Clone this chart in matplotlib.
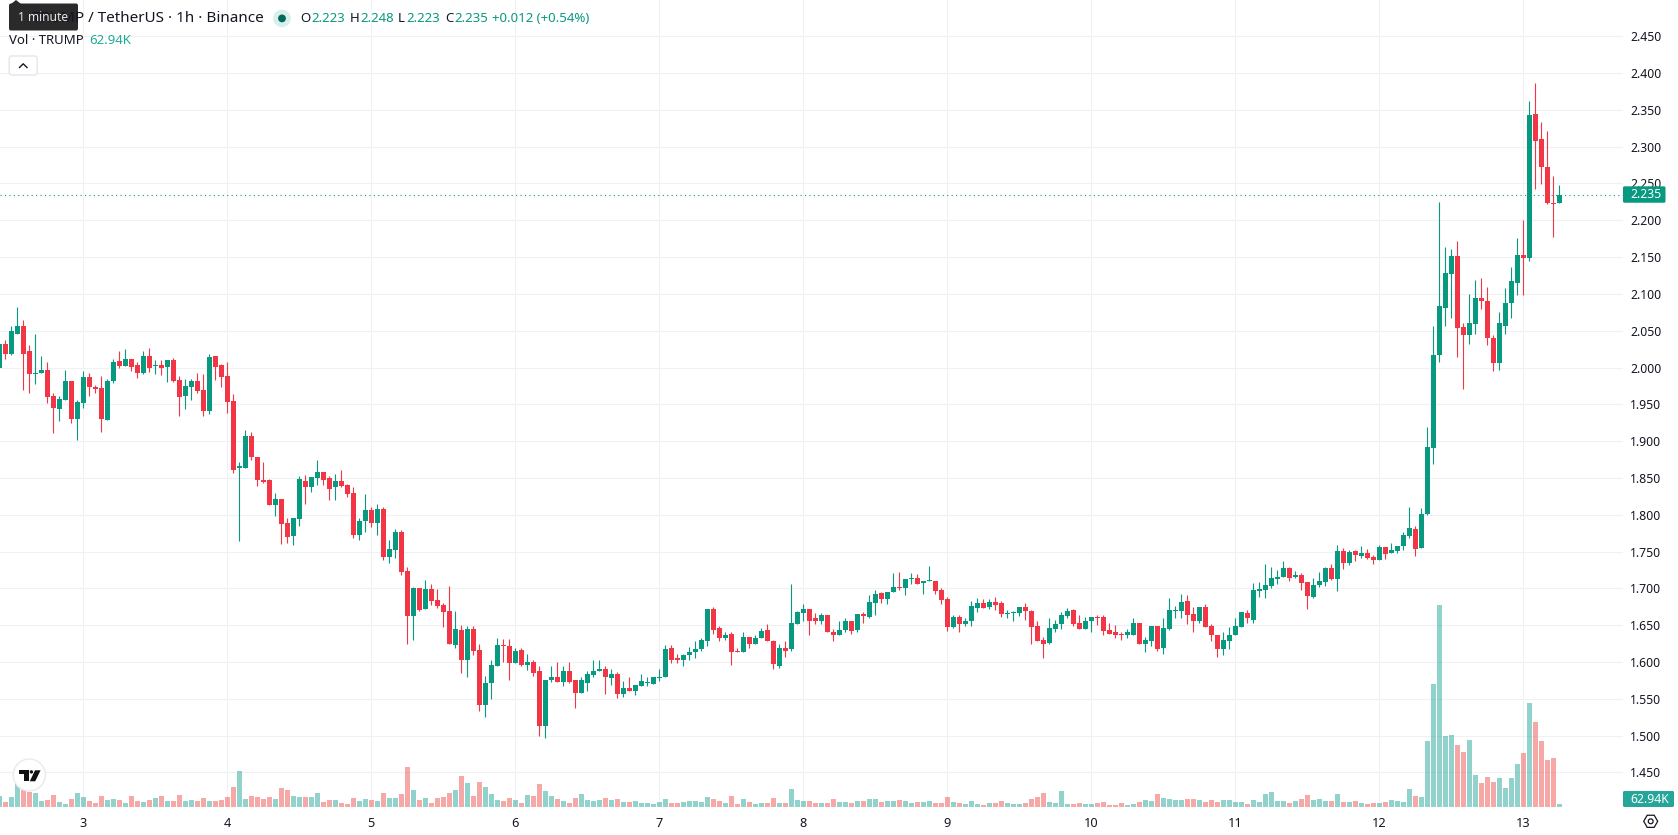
"""Hourly TRUMP/USDT candlesticks with a volume overlay, styled like a TradingView pane."""

import matplotlib

matplotlib.use("Agg")
import matplotlib.pyplot as plt
import numpy as np
from matplotlib.patches import Circle, FancyBboxPatch, Polygon, Rectangle

plt.rcParams["font.family"] = ["Noto Sans", "DejaVu Sans"]

WIDTH, HEIGHT = 1678, 835
PANE_RIGHT, PANE_BOTTOM = 1623, 807

UP = "#089981"
DOWN = "#F23645"
VOL_UP = "#26a69a"
VOL_DOWN = "#ef5350"
GRID = "#f0f1f3"
INK = "#131722"

# hours counted from the start of day 3
first_hour = -14

opens = [
    1.999, 2.032, 2.019, 2.046, 2.057, 2.022, 1.991, 1.992, 1.996, 1.961, 1.944, 1.956, 1.982, 1.930,
    1.952, 1.987, 1.974, 1.972, 1.929, 1.982, 2.009, 2.002, 2.011, 2.003, 1.992, 2.015, 2.002, 2.003, 2.001, 2.010, 1.983, 1.961, 1.974, 1.982, 1.970, 1.941, 2.015, 2.003,
    1.988, 1.955, 1.864, 1.864, 1.907, 1.878, 1.847, 1.847, 1.813, 1.821, 1.789, 1.771, 1.794, 1.846, 1.838, 1.850, 1.858, 1.850, 1.837, 1.846, 1.841, 1.830, 1.773, 1.791,
    1.806, 1.789, 1.808, 1.743, 1.752, 1.777, 1.723, 1.662, 1.700, 1.672, 1.699, 1.684, 1.677, 1.669, 1.623, 1.643, 1.602, 1.645, 1.616, 1.542, 1.571, 1.595, 1.622, 1.621,
    1.598, 1.616, 1.596, 1.600, 1.587, 1.513, 1.575, 1.579, 1.573, 1.588, 1.575, 1.558, 1.572, 1.582, 1.588, 1.591, 1.578, 1.584, 1.556, 1.565, 1.560, 1.567, 1.571, 1.570,
    1.578, 1.579, 1.619, 1.605, 1.602, 1.610, 1.613, 1.617, 1.629, 1.672, 1.646, 1.632, 1.638, 1.615, 1.614, 1.634, 1.625, 1.632, 1.644, 1.629, 1.595, 1.619, 1.617, 1.652,
    1.667, 1.672, 1.659, 1.655, 1.664, 1.641, 1.636, 1.644, 1.656, 1.644, 1.665, 1.661, 1.680, 1.694, 1.686, 1.695, 1.702, 1.700, 1.713, 1.714, 1.707, 1.710, 1.710, 1.698,
    1.686, 1.648, 1.661, 1.652, 1.655, 1.673, 1.680, 1.675, 1.682, 1.680, 1.665, 1.667, 1.667, 1.675, 1.669, 1.649, 1.630, 1.626, 1.645, 1.651, 1.663, 1.671, 1.653, 1.645,
    1.655, 1.661, 1.661, 1.644, 1.641, 1.637, 1.636, 1.637, 1.653, 1.625, 1.629, 1.649, 1.619, 1.645, 1.669, 1.669, 1.683, 1.665, 1.656, 1.674, 1.649, 1.637, 1.617, 1.628,
    1.636, 1.648, 1.667, 1.657, 1.697, 1.698, 1.703, 1.713, 1.715, 1.728, 1.715, 1.718, 1.709, 1.688, 1.705, 1.709, 1.728, 1.713, 1.751, 1.734, 1.751, 1.744, 1.748, 1.742,
    1.738, 1.756, 1.748, 1.751, 1.757, 1.771, 1.780, 1.755, 1.801, 1.891, 2.017, 2.081, 2.127, 2.152, 2.055, 2.044, 2.059, 2.095, 2.091, 2.040, 2.006, 2.057, 2.087, 2.115,
    2.153, 2.149, 2.345, 2.311, 2.273, 2.223, 2.223,
]
highs = [
    2.034, 2.037, 2.056, 2.082, 2.064, 2.030, 2.045, 2.015, 2.007, 1.965, 1.961, 1.996, 1.982, 1.956,
    1.995, 1.992, 1.976, 1.988, 1.984, 2.011, 2.022, 2.025, 2.011, 2.007, 2.022, 2.026, 2.010, 2.010, 2.010, 2.013, 1.988, 1.984, 1.984, 1.992, 1.991, 2.018, 2.015, 2.005,
    2.007, 1.964, 1.871, 1.915, 1.913, 1.878, 1.871, 1.848, 1.829, 1.822, 1.795, 1.795, 1.853, 1.854, 1.851, 1.874, 1.858, 1.853, 1.855, 1.861, 1.842, 1.837, 1.795, 1.828,
    1.811, 1.814, 1.810, 1.765, 1.780, 1.779, 1.729, 1.702, 1.700, 1.711, 1.706, 1.699, 1.680, 1.703, 1.669, 1.650, 1.649, 1.649, 1.625, 1.581, 1.602, 1.633, 1.631, 1.631,
    1.619, 1.619, 1.611, 1.603, 1.594, 1.576, 1.594, 1.600, 1.594, 1.600, 1.575, 1.579, 1.588, 1.603, 1.603, 1.594, 1.590, 1.586, 1.574, 1.580, 1.569, 1.583, 1.579, 1.580,
    1.590, 1.623, 1.623, 1.611, 1.611, 1.620, 1.629, 1.633, 1.672, 1.675, 1.649, 1.641, 1.641, 1.619, 1.641, 1.634, 1.637, 1.646, 1.652, 1.630, 1.625, 1.628, 1.706, 1.669,
    1.679, 1.672, 1.667, 1.667, 1.664, 1.645, 1.655, 1.660, 1.656, 1.665, 1.668, 1.691, 1.698, 1.695, 1.695, 1.721, 1.722, 1.713, 1.721, 1.719, 1.710, 1.730, 1.710, 1.700,
    1.688, 1.664, 1.664, 1.660, 1.683, 1.687, 1.686, 1.686, 1.688, 1.683, 1.671, 1.669, 1.675, 1.680, 1.671, 1.656, 1.634, 1.659, 1.657, 1.668, 1.673, 1.672, 1.664, 1.661,
    1.661, 1.664, 1.664, 1.653, 1.650, 1.641, 1.645, 1.659, 1.653, 1.634, 1.649, 1.649, 1.660, 1.687, 1.676, 1.692, 1.691, 1.675, 1.674, 1.679, 1.652, 1.637, 1.641, 1.648,
    1.660, 1.668, 1.671, 1.707, 1.709, 1.733, 1.729, 1.725, 1.737, 1.729, 1.724, 1.721, 1.709, 1.714, 1.722, 1.729, 1.733, 1.759, 1.755, 1.752, 1.752, 1.757, 1.753, 1.745,
    1.759, 1.756, 1.761, 1.757, 1.776, 1.811, 1.784, 1.809, 1.919, 2.056, 2.225, 2.164, 2.161, 2.172, 2.061, 2.100, 2.119, 2.121, 2.110, 2.044, 2.076, 2.108, 2.137, 2.176,
    2.200, 2.362, 2.387, 2.333, 2.322, 2.260, 2.248,
]
lows = [
    1.999, 2.011, 2.017, 2.045, 1.970, 1.965, 1.978, 1.992, 1.952, 1.911, 1.928, 1.956, 1.924, 1.901,
    1.945, 1.961, 1.965, 1.913, 1.929, 1.979, 1.999, 2.002, 1.995, 1.986, 1.991, 1.994, 1.991, 1.990, 1.980, 1.980, 1.934, 1.944, 1.956, 1.965, 1.934, 1.937, 1.983, 1.974,
    1.938, 1.856, 1.764, 1.864, 1.875, 1.839, 1.843, 1.813, 1.798, 1.760, 1.762, 1.759, 1.785, 1.815, 1.831, 1.841, 1.841, 1.820, 1.820, 1.837, 1.824, 1.769, 1.766, 1.777,
    1.783, 1.772, 1.739, 1.734, 1.741, 1.718, 1.625, 1.630, 1.669, 1.672, 1.677, 1.673, 1.648, 1.625, 1.619, 1.585, 1.579, 1.610, 1.533, 1.525, 1.550, 1.595, 1.600, 1.576,
    1.598, 1.595, 1.589, 1.581, 1.499, 1.496, 1.573, 1.573, 1.567, 1.571, 1.538, 1.558, 1.561, 1.580, 1.587, 1.557, 1.568, 1.551, 1.552, 1.560, 1.555, 1.567, 1.567, 1.570,
    1.574, 1.579, 1.598, 1.599, 1.595, 1.602, 1.606, 1.615, 1.622, 1.638, 1.629, 1.630, 1.596, 1.613, 1.613, 1.619, 1.625, 1.632, 1.628, 1.591, 1.592, 1.607, 1.615, 1.652,
    1.656, 1.637, 1.652, 1.651, 1.640, 1.628, 1.636, 1.640, 1.638, 1.641, 1.653, 1.660, 1.664, 1.680, 1.679, 1.695, 1.698, 1.691, 1.706, 1.706, 1.692, 1.710, 1.692, 1.679,
    1.642, 1.646, 1.640, 1.649, 1.649, 1.668, 1.673, 1.672, 1.671, 1.661, 1.660, 1.656, 1.663, 1.657, 1.625, 1.628, 1.605, 1.625, 1.640, 1.645, 1.660, 1.649, 1.645, 1.645,
    1.641, 1.650, 1.637, 1.638, 1.632, 1.630, 1.632, 1.637, 1.625, 1.614, 1.621, 1.615, 1.611, 1.644, 1.659, 1.660, 1.652, 1.640, 1.653, 1.647, 1.629, 1.607, 1.609, 1.618,
    1.636, 1.648, 1.653, 1.653, 1.688, 1.687, 1.701, 1.706, 1.715, 1.710, 1.714, 1.698, 1.672, 1.687, 1.702, 1.703, 1.711, 1.696, 1.726, 1.732, 1.737, 1.741, 1.740, 1.733,
    1.738, 1.740, 1.748, 1.748, 1.752, 1.768, 1.744, 1.755, 1.800, 1.869, 2.007, 2.056, 2.067, 2.014, 1.971, 2.032, 2.045, 2.079, 2.030, 1.995, 1.996, 2.045, 2.067, 2.098,
    2.099, 2.145, 2.242, 2.249, 2.222, 2.177, 2.223,
]
closes = [
    2.032, 2.019, 2.049, 2.056, 2.019, 1.991, 1.992, 1.996, 1.960, 1.945, 1.957, 1.982, 1.930, 1.953,
    1.987, 1.974, 1.971, 1.930, 1.982, 2.007, 2.002, 2.011, 2.001, 1.992, 2.015, 1.999, 2.003, 1.999, 2.010, 1.982, 1.960, 1.975, 1.982, 1.968, 1.941, 2.014, 2.001, 1.987,
    1.953, 1.861, 1.866, 1.907, 1.878, 1.847, 1.845, 1.813, 1.821, 1.787, 1.770, 1.795, 1.848, 1.838, 1.851, 1.858, 1.847, 1.835, 1.846, 1.839, 1.828, 1.773, 1.792, 1.806,
    1.789, 1.808, 1.743, 1.753, 1.777, 1.722, 1.662, 1.700, 1.670, 1.699, 1.683, 1.676, 1.668, 1.625, 1.645, 1.602, 1.645, 1.615, 1.542, 1.572, 1.596, 1.623, 1.621, 1.598,
    1.615, 1.596, 1.600, 1.585, 1.513, 1.575, 1.579, 1.573, 1.588, 1.573, 1.558, 1.575, 1.584, 1.588, 1.590, 1.579, 1.584, 1.556, 1.565, 1.560, 1.568, 1.574, 1.572, 1.579,
    1.580, 1.618, 1.603, 1.603, 1.610, 1.614, 1.618, 1.630, 1.672, 1.644, 1.632, 1.637, 1.614, 1.614, 1.634, 1.625, 1.633, 1.642, 1.628, 1.597, 1.619, 1.615, 1.653, 1.668,
    1.672, 1.656, 1.655, 1.664, 1.640, 1.636, 1.644, 1.656, 1.642, 1.665, 1.663, 1.682, 1.692, 1.686, 1.695, 1.702, 1.700, 1.713, 1.714, 1.706, 1.710, 1.711, 1.696, 1.684,
    1.648, 1.661, 1.652, 1.656, 1.676, 1.680, 1.673, 1.682, 1.678, 1.665, 1.667, 1.668, 1.675, 1.669, 1.648, 1.629, 1.625, 1.646, 1.652, 1.664, 1.669, 1.652, 1.645, 1.656,
    1.661, 1.660, 1.642, 1.638, 1.636, 1.636, 1.640, 1.653, 1.625, 1.630, 1.649, 1.618, 1.646, 1.671, 1.671, 1.682, 1.664, 1.656, 1.674, 1.648, 1.636, 1.617, 1.630, 1.637,
    1.649, 1.668, 1.659, 1.698, 1.699, 1.705, 1.714, 1.715, 1.728, 1.714, 1.718, 1.707, 1.690, 1.705, 1.710, 1.728, 1.713, 1.751, 1.734, 1.749, 1.745, 1.748, 1.741, 1.738,
    1.756, 1.747, 1.752, 1.757, 1.772, 1.782, 1.753, 1.801, 1.892, 2.017, 2.083, 2.129, 2.152, 2.053, 2.044, 2.060, 2.095, 2.090, 2.040, 2.006, 2.060, 2.088, 2.117, 2.153,
    2.149, 2.343, 2.308, 2.272, 2.223, 2.222, 2.235,
]

# traded volume per hour, thousands of TRUMP
volumes = [
    231, 105, 210, 490, 350, 315, 294, 126, 147, 252, 105, 63, 168, 294,
    210, 126, 84, 231, 147, 168, 147, 84, 231, 126, 105, 147, 189, 231, 126, 126, 252, 126, 147, 126, 189, 126, 126, 147,
    210, 420, 756, 168, 231, 210, 168, 210, 168, 399, 357, 231, 210, 210, 210, 294, 105, 147, 147, 84, 63, 189, 126, 168,
    147, 126, 294, 189, 189, 273, 840, 357, 147, 189, 84, 189, 210, 294, 357, 651, 504, 231, 525, 420, 273, 147, 126, 189,
    147, 84, 252, 231, 483, 336, 231, 168, 126, 84, 189, 273, 147, 126, 147, 189, 147, 168, 105, 105, 126, 84, 84, 63,
    105, 168, 84, 84, 105, 126, 126, 105, 210, 168, 126, 84, 231, 63, 168, 105, 63, 84, 84, 189, 84, 84, 378, 147,
    126, 126, 84, 84, 84, 168, 105, 105, 84, 126, 126, 168, 168, 105, 126, 126, 147, 126, 84, 105, 105, 126, 84, 84,
    210, 105, 84, 63, 126, 63, 42, 84, 84, 126, 84, 63, 63, 84, 168, 210, 294, 105, 84, 336, 63, 63, 84, 63,
    63, 84, 105, 42, 42, 84, 42, 63, 105, 147, 126, 273, 189, 168, 147, 147, 168, 168, 147, 105, 147, 105, 147, 147,
    105, 105, 63, 147, 105, 273, 315, 126, 126, 84, 126, 168, 252, 147, 168, 126, 126, 273, 105, 105, 126, 84, 63, 84,
    84, 105, 147, 126, 105, 378, 231, 210, 1386, 2583, 4242, 1491, 1512, 1302, 1155, 1407, 672, 504, 630, 525, 609, 399, 609, 903,
    1134, 2184, 1785, 1386, 987, 1029, 62.94,
]

days = [3, 4, 5, 6, 7, 8, 9, 10, 11, 12, 13]
price_ticks = [1.45, 1.50, 1.55, 1.60, 1.65, 1.70, 1.75, 1.80, 1.85, 1.90, 1.95, 2.00, 2.05, 2.10,
               2.15, 2.20, 2.25, 2.30, 2.35, 2.40, 2.45]

last_open, last_high, last_low, last_close = 2.223, 2.248, 2.223, 2.235
last_change, last_change_pct = 0.012, 0.54
last_volume_label = "62.94K"

o = np.array(opens)
h = np.array(highs)
l = np.array(lows)
c = np.array(closes)
vol = np.array(volumes)
hours = first_hour + np.arange(len(o))
rising = c >= o

fig = plt.figure(figsize=(WIDTH / 100, HEIGHT / 100), dpi=100, facecolor="white")
ax = fig.add_axes([0, 1 - PANE_BOTTOM / HEIGHT, PANE_RIGHT / WIDTH, PANE_BOTTOM / HEIGHT])
ax.set_xlim(-13.883, 256.617)
ax.set_ylim(1.4029, 2.4993)
ax.set_zorder(1)

# volume sits in its own scale at the foot of the pane, over the grid
vax = ax.twinx()
vax.set_ylim(0, PANE_BOTTOM * 21)
vax.set_zorder(2)
vax.axis("off")
vax.bar(hours, vol, width=0.83, linewidth=0, color=np.where(rising, VOL_UP, VOL_DOWN), alpha=0.5)

ax.set_xticks([(d - 3) * 24 for d in days])
ax.set_xticklabels([str(d) for d in days], fontsize=9.2, color=INK)
ax.get_xticklabels()[days.index(8)].set_fontweight("bold")
ax.yaxis.tick_right()
ax.set_yticks(price_ticks)
ax.set_yticklabels([f"{p:.3f}" for p in price_ticks], fontsize=8.8, color=INK, ha="left")
ax.tick_params(axis="both", length=0)
ax.tick_params(axis="x", pad=7)
ax.tick_params(axis="y", pad=5)
ax.grid(True, color=GRID, linewidth=0.75)
ax.set_axisbelow(True)
for spine in ax.spines.values():
    spine.set_visible(False)

colors = np.where(rising, UP, DOWN)
ax.vlines(hours, l, h, colors=colors, linewidth=0.8, zorder=3)
body = np.maximum(np.abs(c - o), 0.0014)
ax.bar(hours, body, bottom=np.minimum(o, c), width=0.83, color=colors, linewidth=0, zorder=4)

ax.axhline(last_close, color=UP, linewidth=0.8, linestyle=(0, (1, 3)), zorder=2)

# overlay in pixel coordinates for the header, badges and logo
ov = fig.add_axes([0, 0, 1, 1], zorder=5)
ov.set_xlim(0, WIDTH)
ov.set_ylim(HEIGHT, 0)
ov.axis("off")

close_y = HEIGHT - ax.transData.transform((0, last_close))[1]
ov.add_patch(FancyBboxPatch((1623, close_y - 8.2), 42.5, 16.4, boxstyle="round,pad=0,rounding_size=1.5",
                            fc=UP, ec="none"))
ov.text(1630, close_y + 0.2, f"{last_close:.3f}", color="white", fontsize=8.8, va="center")
ov.add_patch(FancyBboxPatch((1623, 791), 51, 16, boxstyle="round,pad=0,rounding_size=1.5", fc=VOL_UP, ec="none"))
ov.text(1630, 799.2, last_volume_label, color="white", fontsize=8.8, va="center")

# settings hexagon in the corner
hex_a = np.deg2rad(np.arange(0, 360, 60))
ov.add_patch(Polygon(np.c_[1650.7 + 7 * np.cos(hex_a), 821.3 + 7 * np.sin(hex_a)], closed=True,
                     fc="none", ec=INK, lw=0.9))
ov.add_patch(Circle((1650.7, 821.3), 2.4, fc="none", ec=INK, lw=0.9))

# legend rows; the tooltip below hides the start of the symbol name
ov.text(264, 18.2, "TRUMP / TetherUS · 1h · Binance", fontsize=11, color=INK, va="center", ha="right")
ov.add_patch(Circle((282, 18.4), 8.8, fc="#d9efeb", ec="none"))
ov.add_patch(Circle((282, 18.4), 3.9, fc="#00695c", ec="none"))

quote = dict(fontsize=9.5, va="center")
for x, letter, x_val, val in [(300, "O", 311, last_open), (350, "H", 360, last_high),
                              (398, "L", 406, last_low), (445, "C", 454, last_close)]:
    ov.text(x, 18.4, letter, color=INK, **quote)
    ov.text(x_val, 18.4, f"{val:.3f}", color=UP, **quote)
ov.text(492, 18.4, f"+{last_change:.3f} (+{last_change_pct:.2f}%)", color=UP, **quote)
ov.text(9.2, 40.5, "Vol · TRUMP", color=INK, **quote)
ov.text(89, 40.5, last_volume_label, color="#22ab94", **quote)

ov.add_patch(FancyBboxPatch((9.2, 56), 28, 19, boxstyle="round,pad=0,rounding_size=2.5", fc="white",
                            ec="#e0e3eb", lw=0.9))
ov.plot([19.5, 23.2, 27], [67.5, 63.8, 67.5], color=INK, lw=1.0)

ov.add_patch(FancyBboxPatch((9, 3.5), 69, 27, boxstyle="round,pad=0,rounding_size=2", fc="#2a2a2a", ec="none"))
ov.add_patch(Polygon([[11, 4], [16, 0], [21, 4]], closed=True, fc="#2a2a2a", ec="none"))
ov.text(43.5, 17.8, "1 minute", color="#e8e8e8", fontsize=8.6, ha="center", va="center")

# TradingView badge
ov.add_patch(Circle((29.3, 775), 16, fc="white", ec="#e9eaee", lw=1.0))
ov.add_patch(Rectangle((19, 770.3), 10.3, 4, fc="#111111", ec="none"))
ov.add_patch(Rectangle((24.4, 770.3), 4.9, 11, fc="#111111", ec="none"))
ov.add_patch(Circle((31.4, 771.9), 1.7, fc="#111111", ec="none"))
ov.add_patch(Polygon([[35, 770.3], [40.6, 770.3], [35.2, 781.3], [29.8, 781.3]], closed=True,
                     fc="#111111", ec="none"))

fig.savefig("out.png", dpi=100, facecolor="white")
